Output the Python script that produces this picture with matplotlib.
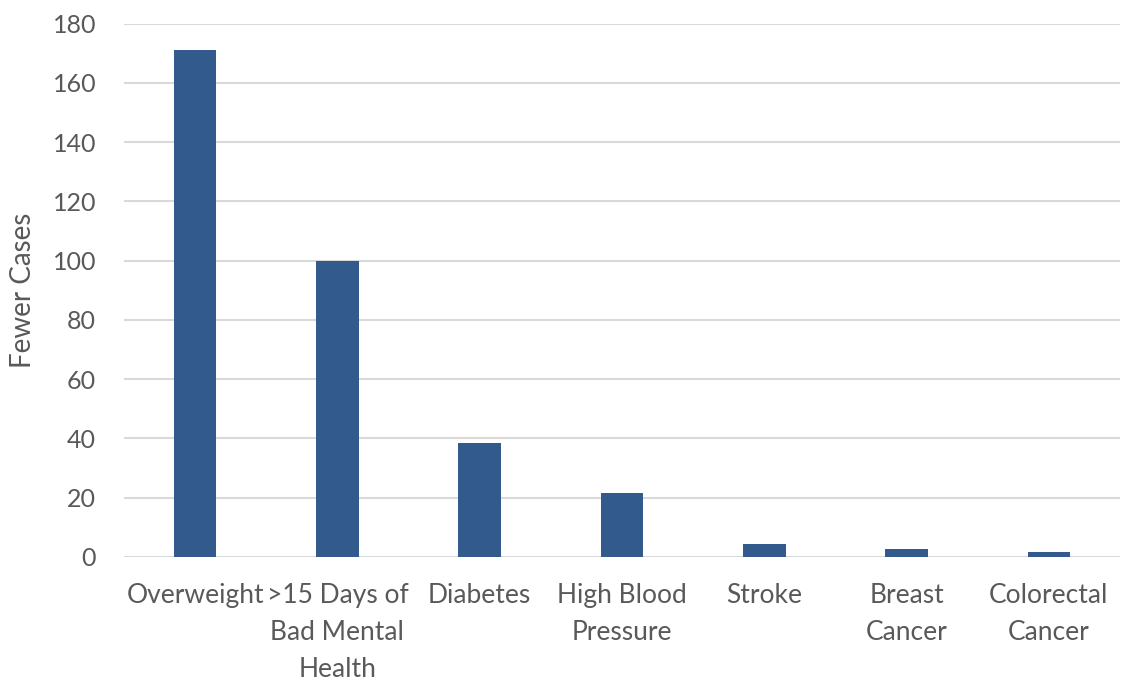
import numpy as np
import matplotlib.pyplot as plt

# valeurs
categories = ["Overweight", ">15 Days of\nBad Mental\nHealth", "Diabetes",
              "High Blood\nPressure", "Stroke", "Breast\nCancer", "Colorectal\nCancer"]
fewer_cases = [171.1, 99.8, 38.6, 21.7, 4.5, 2.8, 1.7]
yticks = [0, 20, 40, 60, 80, 100, 120, 140, 160, 180]

plt.rcParams['font.family'] = ['Lato', 'DejaVu Sans']

fig = plt.figure(figsize=(11.21, 6.81), dpi=100)
ax = fig.add_axes([124/1121, 1-557/681, 996/1121, (557-23.5)/681])

x = np.arange(len(categories))
ax.bar(x, fewer_cases, width=0.3, color='#325A8C', zorder=3)

ax.set_xlim(-0.5, len(categories)-0.5)
ax.set_ylim(0, 180)
ax.set_yticks(yticks)
ax.set_xticks(x)
ax.set_xticklabels(categories, fontsize=19, color='#595959', linespacing=1.6, va='top')
ax.tick_params(axis='y', labelsize=18, labelcolor='#595959', length=0, pad=20)
ax.tick_params(axis='x', length=0, pad=19)
ax.grid(axis='y', color='#D9D9D9', linewidth=1.5, zorder=0)
for s in ax.spines.values():
    s.set_visible(False)

ax.set_ylabel("Fewer Cases", fontsize=20, color='#595959', labelpad=12)

fig.savefig("out.png", dpi=100)
